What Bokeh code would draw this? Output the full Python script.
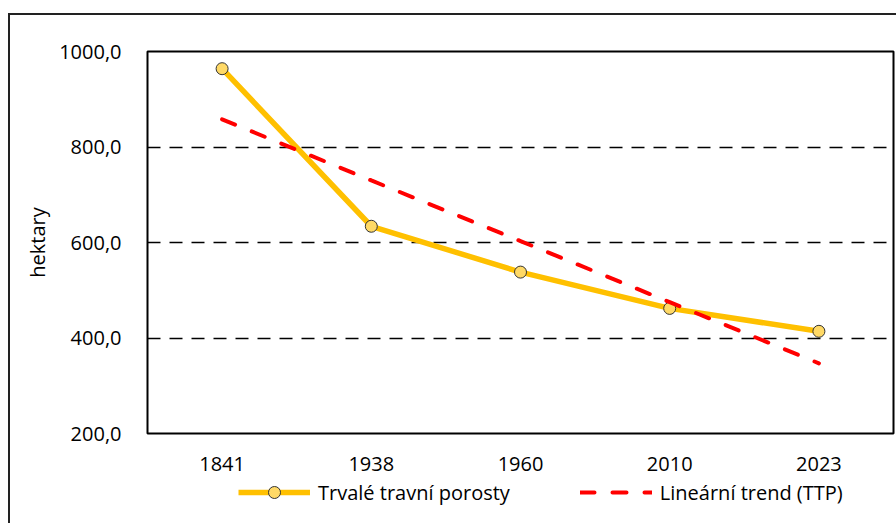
from bokeh.plotting import figure
from bokeh.layouts import column
from bokeh.models import (Range1d, FactorRange, FixedTicker, CustomJSTickFormatter, Legend, LegendItem)
from bokeh.embed import file_html
from bokeh.resources import INLINE

categories = ["1841", "1938", "1960", "2010", "2023"]
grassland = [964, 634, 538, 462, 414]
trend = [858, 730, 603, 475, 347]
y_ticks = [200, 400, 600, 800, 1000]
grid_ticks = [400, 600, 800]
labels = ["Trvalé travní porosty", "Lineární trend (TTP)"]

FONT = "Open Sans"
FS = "20px"
ORANGE = "#FFC000"
MARK_FILL = "#FFD966"
RED = "#FF0000"

p = figure(x_range=categories, y_range=Range1d(200, 1000),
           width=886, height=463, output_backend="svg", toolbar_location=None,
           min_border_left=137, min_border_right=3, min_border_top=36, min_border_bottom=45)

p.outline_line_color = "black"
p.outline_line_width = 2
p.background_fill_color = "white"
p.border_fill_color = "white"

p.xgrid.grid_line_color = None
p.ygrid.ticker = FixedTicker(ticks=grid_ticks)
p.ygrid.grid_line_color = "black"
p.ygrid.grid_line_width = 1.5
p.ygrid.grid_line_dash = "13 9"

p.yaxis.ticker = FixedTicker(ticks=y_ticks)
p.yaxis.formatter = CustomJSTickFormatter(code="return tick.toFixed(1).replace('.', ',');")
for ax in (p.xaxis[0], p.yaxis[0]):
    ax.axis_line_color = None
    ax.major_tick_line_color = None
    ax.minor_tick_line_color = None
    ax.major_label_text_font = FONT
    ax.major_label_text_font_size = FS
    ax.major_label_text_color = "black"
p.xaxis.major_label_standoff = 17
p.yaxis.major_label_standoff = 20
p.yaxis.axis_label = "hektary"
p.yaxis.axis_label_text_font = FONT
p.yaxis.axis_label_text_font_size = FS
p.yaxis.axis_label_text_font_style = "normal"
p.yaxis.axis_label_text_color = "black"
p.yaxis.axis_label_standoff = 5

line_kw = dict(line_color=ORANGE, line_width=5.5, line_join="round")
pt_kw = dict(size=12, fill_color=MARK_FILL, line_color="#333333", line_width=1)
trend_kw = dict(line_color=RED, line_width=4, line_dash="14 18", line_cap="round")

p.line(categories, grassland, **line_kw)
p.scatter(categories, grassland, **pt_kw)
p.line(categories, trend, **trend_kw)

# legend strip below the chart (its own renderers are clipped out of its tiny y-range)
lf = figure(x_range=FactorRange(*categories), y_range=Range1d(0, 45), width=886, height=45,
            output_backend="svg", toolbar_location=None,
            min_border_left=0, min_border_right=0, min_border_top=0, min_border_bottom=0)
lf.axis.visible = False
lf.grid.visible = False
lf.outline_line_color = None
lf.background_fill_color = "white"
lf.border_fill_color = "white"
l1 = lf.line(categories, grassland, **line_kw)
l2 = lf.scatter(categories, grassland, **pt_kw)
l3 = lf.line(categories, trend, **trend_kw)
legend = Legend(items=[LegendItem(label=labels[0], renderers=[l1, l2]),
                       LegendItem(label=labels[1], renderers=[l3])],
                orientation="horizontal", location=(91, 16),
                glyph_width=72, glyph_height=30, label_standoff=8, spacing=70,
                padding=0, margin=0, border_line_color=None, background_fill_alpha=0,
                label_text_font=FONT, label_text_font_size=FS, label_text_color="black")
lf.add_layout(legend)

layout = column(p, lf, spacing=0)
layout.styles = {"border-left": "2px solid #222222", "border-top": "2px solid #222222",
                 "margin-left": "8px", "margin-top": "13px"}

open("out.html", "w").write(file_html(layout, INLINE))
